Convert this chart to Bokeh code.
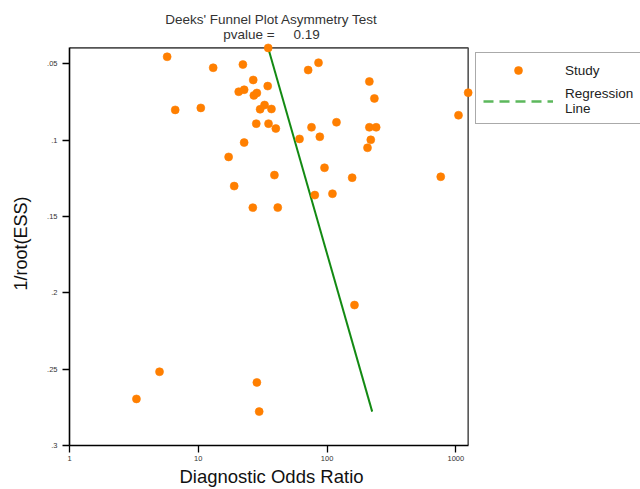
import numpy as np
from bokeh.plotting import figure
from bokeh.layouts import row
from bokeh.models import (Range1d, FixedTicker, Legend, LegendItem, Title, ColumnDataSource)
from bokeh.embed import file_html
from bokeh.resources import INLINE

# ---- data ----
dor = [5.73, 34.9, 13.05, 22.2, 26.7, 20.6, 22.7, 34.6, 27.0, 28.5,
       6.62, 10.46, 30.2, 32.7, 37.0, 28.2, 35.1, 40.0, 22.7, 17.2,
       61.1, 75.7, 71.3, 85.8, 87.8, 213.0, 233.0, 1246.0, 1048.0, 118.3,
       213.0, 240.5, 218.4, 206.0, 95.5, 156.6, 763.0, 80.3, 110.1, 39.0,
       19.0, 26.5, 41.4, 163.2, 3.31, 5.00, 28.5, 29.7]
inv_root_ess = [0.0454, 0.0396, 0.0526, 0.0505, 0.0606, 0.0683, 0.0670, 0.0646, 0.0707, 0.0691,
                0.0802, 0.0789, 0.0798, 0.0770, 0.0796, 0.0892, 0.0892, 0.0924, 0.1016, 0.1110,
                0.0992, 0.0916, 0.0541, 0.0493, 0.0978, 0.0616, 0.0727, 0.0689, 0.0837, 0.0883,
                0.0916, 0.0916, 0.0998, 0.1050, 0.1181, 0.1246, 0.1240, 0.1360, 0.1351, 0.1229,
                0.1301, 0.1442, 0.1442, 0.2080, 0.2695, 0.2517, 0.2587, 0.2778]
reg_x = [34.9, 224.0]
reg_y = [0.0396, 0.2778]

x_ticks = [1, 10, 100, 1000]
x_tick_labels = ["1", "10", "100", "1000"]
y_ticks = [0.05, 0.1, 0.15, 0.2, 0.25, 0.3]
y_tick_labels = [".05", ".1", ".15", ".2", ".25", ".3"]

title_line1 = "Deeks' Funnel Plot Asymmetry Test"
title_line2 = "pvalue\u00a0=\u00a0\u00a0\u00a0\u00a0\u00a00.19"
x_label = "Diagnostic Odds Ratio"
y_label = "1/root(ESS)"
legend_labels = ["Study", "Regression\nLine"]

FONT = "Liberation Sans"
DOT = "#ff7f00"

xmax = max(dor)
ymin = min(inv_root_ess)
ybot = 0.3

p = figure(width=473, height=489, x_axis_type="log",
           x_range=Range1d(1, xmax * 1.1), y_range=Range1d(ybot, ymin - 0.0042),
           output_backend="svg", toolbar_location=None,
           min_border_left=69, min_border_right=0, min_border_top=41, min_border_bottom=43)
p.outline_line_color = None
p.background_fill_color = "white"
p.border_fill_color = "white"
p.xgrid.visible = False
p.ygrid.visible = False

p.title.text = title_line1
p.title.align = "center"
p.title.text_font = FONT
p.title.text_font_size = "13.5px"
p.title.text_font_style = "normal"
p.title.text_color = "#333333"
p.title.standoff = -4
p.title.offset = 0
t2 = Title(text=title_line2, align="center", text_font=FONT, text_font_size="13.5px",
           text_font_style="normal", text_color="#333333", standoff=0, offset=0)
p.add_layout(t2, "above")

for ax in (p.xaxis[0], p.yaxis[0]):
    ax.axis_line_color = "black"
    ax.axis_line_width = 1.6
    ax.major_tick_line_color = "black"
    ax.major_tick_line_width = 1.3
    ax.major_tick_in = 0
    ax.major_tick_out = 7
    ax.minor_tick_line_color = None
    ax.major_label_text_font = FONT
    ax.major_label_text_font_size = "7.5px"
    ax.major_label_text_color = "#333333"
    ax.axis_label_text_font = FONT
    ax.axis_label_text_font_style = "normal"
    ax.axis_label_text_color = "#111111"

p.xaxis.ticker = FixedTicker(ticks=x_ticks)
p.xaxis.major_label_overrides = {t_: l for t_, l in zip(x_ticks, x_tick_labels)}
p.xaxis.bounds = (1, xmax)
p.xaxis.axis_label = x_label
p.xaxis.axis_label_text_font_size = "18.5px"
p.xaxis.axis_label_standoff = 2
p.xaxis.major_label_standoff = 3

p.yaxis.ticker = FixedTicker(ticks=y_ticks)
p.yaxis.major_label_overrides = {t_: l for t_, l in zip(y_ticks, y_tick_labels)}
p.yaxis.bounds = (ymin, ybot)
p.yaxis.axis_label = y_label
p.yaxis.axis_label_text_font_size = "18px"
p.yaxis.axis_label_standoff = 13
p.yaxis.major_label_standoff = 5
p.yaxis.major_label_orientation = "horizontal"

# top and right box lines
p.line([1, xmax, xmax], [ymin, ymin, ybot], line_color="#555555", line_width=1.6)

p.line(reg_x, reg_y, line_color="#138a13", line_width=2)
src = ColumnDataSource(dict(x=dor, y=inv_root_ess))
p.scatter("x", "y", source=src, size=8, fill_color=DOT, line_color=DOT, line_alpha=0.6)

# ---- legend panel (separate figure to the right; its frame aligns with p's) ----
lf = figure(width=167, height=489, output_backend="svg", toolbar_location=None,
            x_axis_location=None, y_axis_location=None,
            min_border_left=0, min_border_right=0, min_border_top=0, min_border_bottom=0)
lf.outline_line_color = None
lf.xgrid.visible = False
lf.ygrid.visible = False
lf.border_fill_color = "white"
leg_pts = lf.scatter(dor, inv_root_ess, size=8, fill_color=DOT, line_color=DOT,
                     line_alpha=0.6, visible=False)
leg_line = lf.line(reg_x, reg_y, line_color="#5cb85c", line_width=2.5,
                   line_dash="10 6", visible=False)

legend = Legend(items=[LegendItem(label=legend_labels[0], renderers=[leg_pts]),
                       LegendItem(label=legend_labels[1], renderers=[leg_line])],
                location=(2, 321))
legend.border_line_color = "#555555"
legend.border_line_width = 1.6
legend.label_text_font = FONT
legend.label_text_font_size = "13.5px"
legend.label_text_color = "#222222"
legend.label_text_line_height = 0.95
legend.glyph_width = 70
legend.glyph_height = 20
legend.label_standoff = 12
legend.label_width = 95
legend.padding = 7
legend.spacing = 6
legend.margin = 0
legend.click_policy = "none"
legend.inactive_fill_alpha = 0
legend.background_fill_color = "white"
lf.add_layout(legend, "center")

open("out.html", "w").write(file_html(row(p, lf), INLINE))
